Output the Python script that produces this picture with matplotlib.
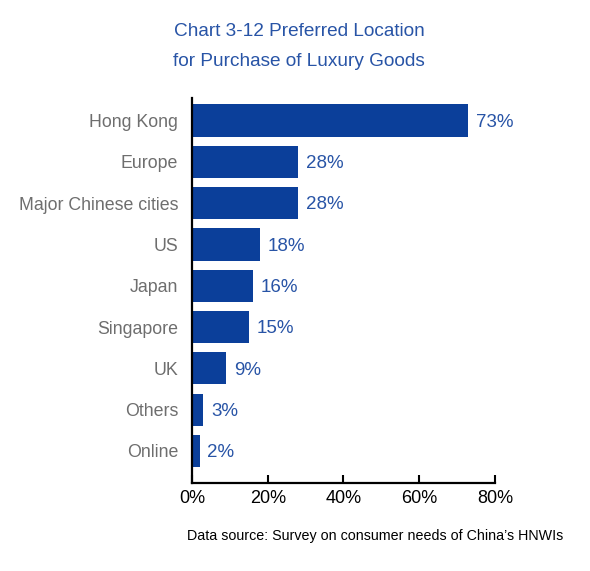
import matplotlib.pyplot as plt
import numpy as np

plt.rcParams['font.family'] = ['Liberation Sans', 'DejaVu Sans']

# data
locations = ['Hong Kong', 'Europe', 'Major Chinese cities', 'US', 'Japan',
             'Singapore', 'UK', 'Others', 'Online']
shares = [73, 28, 28, 18, 16, 15, 9, 3, 2]
xticks = [0, 20, 40, 60, 80]
xtick_labels = ['0%', '20%', '40%', '60%', '80%']

bar_color = '#0b3f9a'
label_blue = '#2854a6'
grey = '#6e6e6e'

fig = plt.figure(figsize=(5.9, 5.71), dpi=100)
ax = fig.add_axes([0.3254, 0.1541, 0.5136, 0.6743])

y = np.arange(len(locations))
ax.barh(y, shares, height=0.78, color=bar_color)

for yi, v in zip(y, shares):
    ax.text(v + 2.0, yi + 0.04, f'{v}%', va='center', ha='left',
            fontsize=13.5, color=label_blue)

ax.set_ylim(len(locations) - 1 + 0.775, -0.545)
ax.set_xlim(0, 80)

ax.set_yticks(y)
ax.set_yticklabels(locations, fontsize=12.8, color=grey)
ax.tick_params(axis='y', length=0, pad=10)

ax.set_xticks(xticks)
ax.set_xticklabels(xtick_labels, fontsize=13, color='black')
ax.tick_params(axis='x', direction='in', length=6, width=1.5, pad=5)

for s in ['top', 'right']:
    ax.spines[s].set_visible(False)
for s in ['left', 'bottom']:
    ax.spines[s].set_linewidth(1.6)
    ax.spines[s].set_color('black')

# title
fig.text(299 / 590, 1 - 32 / 571, 'Chart 3-12 Preferred Location',
         ha='center', va='center', fontsize=13.7, color=label_blue)
fig.text(299 / 590, 1 - 62 / 571, 'for Purchase of Luxury Goods',
         ha='center', va='center', fontsize=13.7, color=label_blue)

# source note
fig.text(375 / 590, 1 - 536 / 571,
         'Data source: Survey on consumer needs of China\u2019s HNWIs',
         ha='center', va='center', fontsize=10.3, color='black')

fig.savefig('out.png', dpi=100)
